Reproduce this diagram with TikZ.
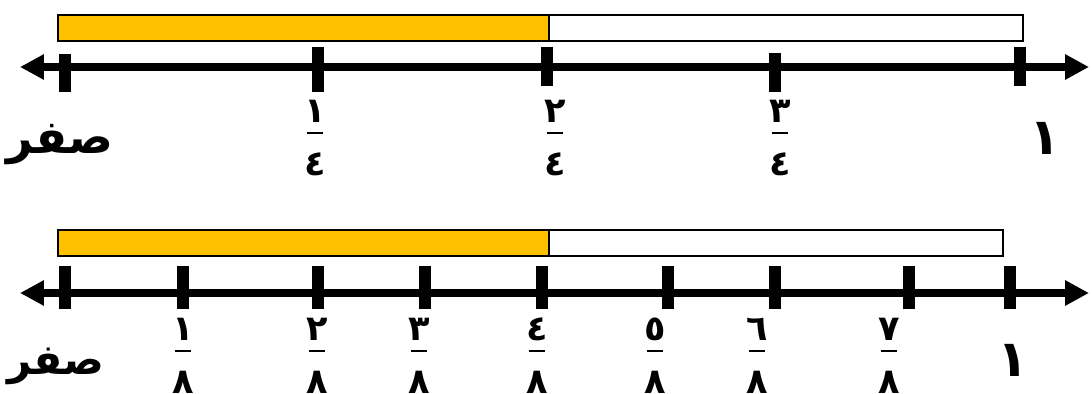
\documentclass[tikz,border=0pt]{standalone}
\usepackage{fontspec}
\usetikzlibrary{arrows.meta}
\newfontfamily\arabicfont[Script=Arabic]{DejaVu Sans}
\TeXXeTstate=1
\definecolor{partfill}{HTML}{FFC000}
\tikzset{
  every picture/.style={line width=1.4pt},
  sbar/.style={draw=black, line width=1.4pt},
  spart/.style={sbar, fill=partfill},
  saxis/.style={line width=5.7pt,
    {Triangle[length=17pt,width=17pt]}-{Triangle[length=17pt,width=17pt]}},
  stick/.style={line width=9.2pt},
  sfrac/.style={font=\arabicfont\bfseries\fontsize{25}{18.5}\selectfont,
    align=center, inner sep=0pt, anchor=base},
  send/.style={font=\arabicfont\bfseries\fontsize{36}{40}\selectfont, inner sep=0pt},
}
\newcommand{\arfrac}[2]{#1\\\rule[10.5pt]{12pt}{1.6pt}\\#2}

\begin{document}
\begin{tikzpicture}[x=0.025cm, y=-0.025cm]
  \useasboundingbox (0,0) rectangle (1092,394);
  % quarters
  \draw[sbar] (58,15) rectangle (1023,41);
  \draw[spart] (58,15) rectangle (549,41);
  \coordinate (qa) at (20,67);
  \coordinate (qb) at (1089,67);
  \draw[saxis] (qa) -- (qb);
  \foreach \x/\a/\b in {65/54/92, 318/47/92, 547/47/86, 775/53/92, 1020/47/86}
    \draw[stick] (\x,\a) -- (\x,\b);
  \node[send, font=\arabicfont\bfseries\fontsize{33}{36}\selectfont] (q0) at (60,145) {\beginR صفر\endR};
  \node[send] (q4) at (1045,138) {١};
  \foreach \x/\n [count=\i] in {315/١, 555/٢, 780/٣}
    \node[sfrac] (q\i) at (\x,175) {\arfrac{\n}{٤}};
  % eighths
  \draw[sbar] (58,230) rectangle (1003,256);
  \draw[spart] (58,230) rectangle (549,256);
  \coordinate (ea) at (20,293);
  \coordinate (eb) at (1089,293);
  \draw[saxis] (ea) -- (eb);
  \foreach \x in {65, 183, 318, 425, 542, 668, 775, 909, 1010}
    \draw[stick] (\x,266) -- (\x,309);
  \node[send, font=\arabicfont\bfseries\fontsize{30}{33}\selectfont] (e0) at (56,366) {\beginR صفر\endR};
  \node[send] (e8) at (1013,360) {١};
  \foreach \x/\n [count=\i] in {183/١, 317/٢, 419/٣, 537/٤, 655/٥, 757/٦, 889/٧}
    \node[sfrac] (e\i) at (\x,393) {\arfrac{\n}{٨}};
\end{tikzpicture}
\end{document}
